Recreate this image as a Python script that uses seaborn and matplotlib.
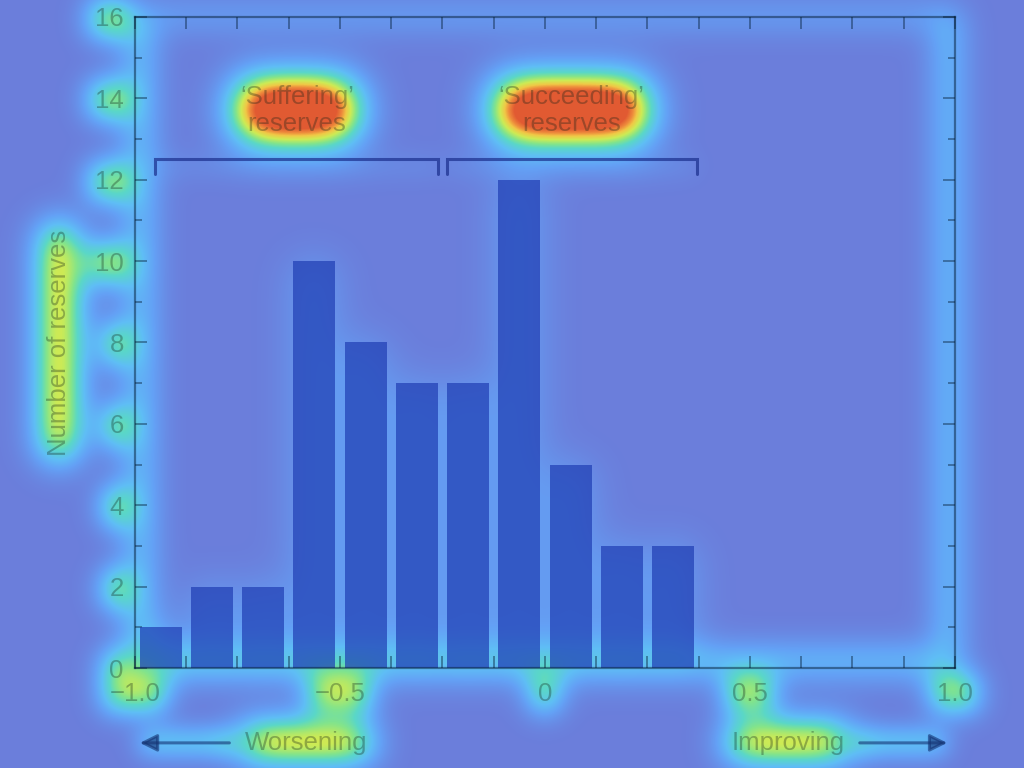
import numpy as np
import matplotlib
matplotlib.use("Agg")
import matplotlib.pyplot as plt
import seaborn as sns
from matplotlib.colors import LinearSegmentedColormap
from matplotlib.ticker import MultipleLocator

# === DATA
bin_edges = [-1.0, -0.875, -0.75, -0.625, -0.5, -0.375, -0.25, -0.125, 0.0, 0.125, 0.25, 0.375]
counts = [1, 2, 2, 10, 8, 7, 7, 12, 5, 3, 3]
x_tick_vals = [-1.0, -0.5, 0.0, 0.5, 1.0]
x_tick_labels = ["\u22121.0", "\u22120.5", "0", "0.5", "1.0"]
y_tick_vals = [0, 2, 4, 6, 8, 10, 12, 14, 16]
y_label = "Number of reserves"
group_names = ["\u2018Suffering\u2019\nreserves", "\u2018Succeeding\u2019\nreserves"]
group_spans = [(-0.95, -0.26), (-0.24, 0.37)]
left_note = "Worsening"
right_note = "Improving"

# === STYLE
sns.set_theme(style="ticks")
plt.rcParams["font.family"] = ["Liberation Sans", "DejaVu Sans"]
FS = 18.5
INK = (0.06, 0.12, 0.08, 0.32)
LINE = (0.02, 0.12, 0.22, 0.5)
BAR = (0.12, 0.24, 0.70)

heat_cmap = LinearSegmentedColormap.from_list("heat", [
    (0.00, (107/255, 126/255, 219/255)),
    (0.20, (100/255, 160/255, 245/255)),
    (0.35, (95/255, 190/255, 245/255)),
    (0.50, (90/255, 215/255, 200/255)),
    (0.60, (130/255, 228/255, 140/255)),
    (0.72, (205/255, 235/255, 85/255)),
    (0.82, (240/255, 200/255, 70/255)),
    (0.90, (238/255, 140/255, 60/255)),
    (1.00, (225/255, 90/255, 50/255)),
])

fig = plt.figure(figsize=(10.24, 7.68), dpi=100)
fig.patch.set_facecolor(heat_cmap(0.0))
ax = fig.add_axes([0.1318, 0.1302, 0.8008, 0.8477], zorder=1)
ax.set_facecolor("none")

centers = [(a + b) / 2 for a, b in zip(bin_edges[:-1], bin_edges[1:])]
sns.histplot(x=centers, weights=counts, bins=bin_edges, shrink=0.82,
             color=BAR, alpha=0.7, edgecolor="none", linewidth=0, ax=ax)

ax.set_xlim(-1.0, 1.0)
ax.set_ylim(0, 16)
ax.set_xticks(x_tick_vals, x_tick_labels)
ax.set_yticks(y_tick_vals)
ax.xaxis.set_minor_locator(MultipleLocator(0.125))
ax.yaxis.set_minor_locator(MultipleLocator(1))
ax.tick_params(which="both", direction="in", top=True, right=True,
               color=LINE, width=1.2, labelsize=FS, labelcolor=INK, pad=8)
ax.tick_params(axis="x", which="both", length=8.6, pad=10)
ax.tick_params(axis="y", which="major", length=8.6)
ax.tick_params(axis="y", which="minor", length=5)
for s in ax.spines.values():
    s.set_color(LINE)
    s.set_linewidth(1.6)
ax.set_xlabel("")
ax.set_ylabel(y_label, fontsize=FS, color=INK)
ax.yaxis.set_label_coords(-0.078, 0.5)

# brackets and group labels
notes = []
brackets = []
for name, (x0, x1) in zip(group_names, group_spans):
    ln, = ax.plot([x0, x0, x1, x1], [12.15, 12.5, 12.5, 12.15],
                  color=(0.1, 0.18, 0.55, 0.7), lw=2.2, solid_joinstyle="miter")
    brackets.append(ln)
    notes.append(ax.text((x0 + x1) / 2, 13.7, name, ha="center", va="center",
                         fontsize=FS, color=INK, linespacing=1.12))

# direction arrows under the axis
tr = ax.get_xaxis_transform()
labels = [ax.yaxis.label]
labels.append(ax.text(-0.732, -0.115, left_note, transform=tr, ha="left", va="center",
                      fontsize=FS, color=INK, clip_on=False))
labels.append(ax.text(0.732, -0.115, right_note, transform=tr, ha="right", va="center",
                      fontsize=FS, color=INK, clip_on=False))
arrows = []
for start, end in [(-0.763, -0.995), (0.761, 0.988)]:
    arrows.append(ax.annotate("", xy=(end, -0.115), xytext=(start, -0.115), xycoords=tr,
                              textcoords=tr, annotation_clip=False,
                              arrowprops=dict(arrowstyle="-|>", lw=2.2, mutation_scale=26,
                                              color=(0.08, 0.2, 0.45, 0.6))))

# === HEAT LAYER (built from where the chart's ink sits)
fig.canvas.draw()
rend = fig.canvas.get_renderer()
W, H = fig.canvas.get_width_height()


def box_mask(bbs, grow=0):
    m = np.zeros((H, W))
    for bb in bbs:
        x0 = int(max(bb.x0 - grow, 0))
        x1 = int(min(bb.x1 + grow, W))
        r0 = int(max(H - bb.y1 - grow, 0))
        r1 = int(min(H - bb.y0 + grow, H))
        m[r0:r1, x0:x1] = 1.0
    return m


def blur(img, sigma):
    pad = int(3 * sigma)
    p = np.pad(img, pad)
    fy = np.fft.fftfreq(p.shape[0])[:, None]
    fx = np.fft.rfftfreq(p.shape[1])[None, :]
    k = np.exp(-2 * (np.pi * sigma) ** 2 * (fx ** 2 + fy ** 2))
    out = np.fft.irfft2(np.fft.rfft2(p) * k, s=p.shape)
    return out[pad:-pad, pad:-pad]


tick_texts = [t for t in ax.get_xticklabels() + ax.get_yticklabels() if t.get_text()]
groups = [
    ([t.get_window_extent(rend) for t in notes], 1.6, 22, 2),
    ([t.get_window_extent(rend) for t in labels], 1.15, 18, 4),
    ([t.get_window_extent(rend) for t in tick_texts], 0.75, 14, 6),
    ([s.get_window_extent(rend) for s in ax.spines.values()], 0.48, 16, 6),
    ([a.arrow_patch.get_window_extent(rend) for a in arrows], 0.5, 12, 4),
    ([p.get_window_extent(rend) for p in ax.patches], 0.22, 20, 0),
    ([b.get_window_extent(rend) for b in brackets], 0.12, 12, 0),
]
heat = np.zeros((H, W))
for bbs, w, sig, grow in groups:
    heat += w * blur(box_mask(bbs, grow), sig)
heat = np.clip(heat, 0, 1)

bg = fig.add_axes([0, 0, 1, 1], zorder=0)
bg.imshow(heat, cmap=heat_cmap, vmin=0, vmax=1, aspect="auto", interpolation="bilinear")
bg.set_axis_off()

fig.savefig("out.png", dpi=100)
